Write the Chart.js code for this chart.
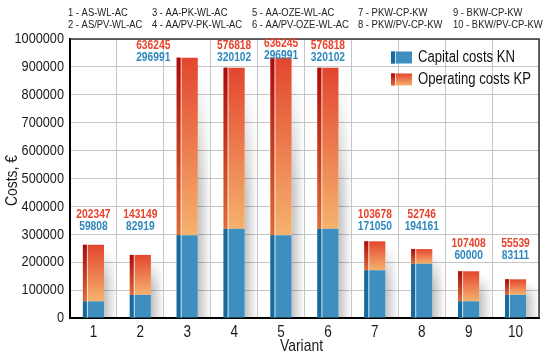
<!DOCTYPE html>
<html lang="en">
<head>
<meta charset="UTF-8" />
<title>Costs per variant</title>
<script src="https://cdn.jsdelivr.net/npm/chart.js"></script>
<style>
  html, body { margin: 0; padding: 0; background: #fff; }
  #wrap { width: 550px; height: 357px; }
</style>
</head>
<body>
<div id="wrap"><canvas id="costChart"></canvas></div>
<script>
  const variants = ['1', '2', '3', '4', '5', '6', '7', '8', '9', '10'];
  const variantNames = [
    '1 - AS-WL-AC', '2 - AS/PV-WL-AC',
    '3 - AA-PK-WL-AC', '4 - AA/PV-PK-WL-AC',
    '5 - AA-OZE-WL-AC', '6 - AA/PV-OZE-WL-AC',
    '7 - PKW-CP-KW', '8 - PKW/PV-CP-KW',
    '9 - BKW-CP-KW', '10 - BKW/PV-CP-KW'
  ];
  const capitalCosts = [59808, 82919, 296991, 320102, 296991, 320102, 171050, 194161, 60000, 83111];
  const operatingCosts = [202347, 143149, 636245, 576818, 636245, 576818, 103678, 52746, 107408, 55539];
  // value level where each pair of number labels sits
  const labelLevel = [370000, 370000, 978000, 978000, 982000, 978000, 370000, 370000, 268000, 268000];
  const yMax = 1000000;
  const yStep = 100000;
  const xTitle = 'Variant';
  const yTitle = 'Costs, €';

  // no narrow font installed, so Liberation Sans gets squeezed horizontally
  const FONT = "'Liberation Sans', Arial, sans-serif";
  const SQUEEZE = 0.82;
  const RED = '#e8432d';
  const BLUE = '#2f88bd';
  const INK = '#1a1a1a';

  function narrowText(ctx, text, x, y, opts) {
    ctx.save();
    ctx.translate(x, y);
    if (opts.rotate) ctx.rotate(opts.rotate);
    ctx.scale(SQUEEZE, 1);
    ctx.font = opts.font;
    ctx.fillStyle = opts.color || INK;
    ctx.textAlign = opts.align || 'left';
    ctx.textBaseline = 'middle';
    ctx.fillText(text, 0, 0);
    ctx.restore();
  }

  function opGradient(c) {
    const chart = c.chart;
    if (!chart.chartArea || c.type !== 'data') return '#e8623c';
    const y = chart.scales.y;
    const i = c.dataIndex;
    const top = y.getPixelForValue(capitalCosts[i] + operatingCosts[i]);
    const bot = y.getPixelForValue(capitalCosts[i]);
    const g = chart.ctx.createLinearGradient(0, top, 0, bot);
    g.addColorStop(0, '#e2462f');
    g.addColorStop(1, '#f6b26d');
    return g;
  }

  function drawStrip(ctx, left, top, bottom, isOp) {
    if (isOp) {
      const g = ctx.createLinearGradient(0, top, 0, bottom);
      g.addColorStop(0, '#a90b0b');
      g.addColorStop(1, '#df6a38');
      ctx.fillStyle = g;
    } else {
      ctx.fillStyle = '#186a9c';
    }
    ctx.fillRect(left, top, 4, bottom - top);
    ctx.fillStyle = 'rgba(255,255,255,0.75)';
    ctx.fillRect(left + 4, top, 1, bottom - top);
  }

  const decor = {
    id: 'decor',
    beforeDatasetsDraw(chart) {
      // soft shadow to the right of every bar
      const ctx = chart.ctx;
      const m0 = chart.getDatasetMeta(0).data;
      const m1 = chart.getDatasetMeta(1).data;
      ctx.save();
      m0.forEach((b0, i) => {
        const p0 = b0.getProps(['x', 'base', 'width'], true);
        const p1 = m1[i].getProps(['y'], true);
        const right = p0.x + p0.width / 2;
        const top = p1.y, base = p0.base;
        const h = base - top;
        const g = ctx.createLinearGradient(right, 0, right + 13, 0);
        g.addColorStop(0, 'rgba(0,0,0,0.24)');
        g.addColorStop(1, 'rgba(0,0,0,0)');
        ctx.fillStyle = g;
        for (let r = top; r < base; r++) {
          const t = (r - top) / h;
          ctx.globalAlpha = Math.max(0, Math.min(1, (t - 0.05) / 0.45));
          ctx.fillRect(right, r, 13, 1);
        }
      });
      ctx.restore();
    },
    afterDatasetsDraw(chart) {
      const ctx = chart.ctx;
      const area = chart.chartArea;
      ctx.save();
      [0, 1].forEach(d => {
        chart.getDatasetMeta(d).data.forEach(b => {
          const p = b.getProps(['x', 'y', 'base', 'width'], true);
          drawStrip(ctx, p.x - p.width / 2, p.y, p.base, d === 1);
        });
      });
      // frame top and right
      ctx.strokeStyle = '#333';
      ctx.lineWidth = 1.5;
      ctx.beginPath();
      ctx.moveTo(area.left, area.top);
      ctx.lineTo(area.right, area.top);
      ctx.lineTo(area.right, area.bottom);
      ctx.stroke();
      ctx.restore();

      // number labels above bars
      const y = chart.scales.y;
      const labelShift = { 2: -34 };
      chart.getDatasetMeta(0).data.forEach((b, i) => {
        const x = b.getProps(['x'], true).x + (labelShift[i] || 0);
        const ly = y.getPixelForValue(labelLevel[i]);
        narrowText(ctx, String(operatingCosts[i]), x, ly, { font: 'bold 12.5px ' + FONT, color: RED, align: 'center' });
        narrowText(ctx, String(capitalCosts[i]), x, ly + 12, { font: 'bold 12.5px ' + FONT, color: BLUE, align: 'center' });
      });
    },
    afterDraw(chart) {
      const ctx = chart.ctx;
      const area = chart.chartArea;
      const xs = chart.scales.x, ys = chart.scales.y;

      // tick labels
      ys.ticks.forEach(t => {
        narrowText(ctx, String(t.value), area.left - 6, ys.getPixelForValue(t.value), { font: '15.5px ' + FONT, align: 'right' });
      });
      variants.forEach((v, i) => {
        narrowText(ctx, v, xs.getPixelForValue(i), area.bottom + 14, { font: '16.5px ' + FONT, align: 'center' });
      });

      // axis titles
      narrowText(ctx, xTitle, (area.left + area.right) / 2 - 3, area.bottom + 28, { font: '17px ' + FONT, align: 'center' });
      narrowText(ctx, yTitle, 12, (area.top + area.bottom) / 2 + 2, { font: '17px ' + FONT, align: 'center', rotate: -Math.PI / 2 });

      // variant key above the plot
      const colX = [68, 152, 252, 358, 453];
      variantNames.forEach((n, i) => {
        narrowText(ctx, n, colX[Math.floor(i / 2)], i % 2 === 0 ? 12.5 : 24.5, { font: '11.5px ' + FONT, color: '#222' });
      });

      // legend
      const rows = [57.5, 79.5];
      ctx.save();
      chart.data.datasets.forEach((ds, d) => {
        const cy = rows[d];
        if (d === 0) {
          ctx.fillStyle = '#3e8fc0';
        } else {
          const g = ctx.createLinearGradient(0, cy - 6, 0, cy + 6);
          g.addColorStop(0, '#e2462f');
          g.addColorStop(1, '#f6b26d');
          ctx.fillStyle = g;
        }
        ctx.fillRect(391, cy - 6, 21, 12);
        drawStrip(ctx, 391, cy - 6, cy + 6, d === 1);
        narrowText(ctx, ds.label, 418, cy + 0.5, { font: '16px ' + FONT, color: '#111' });
      });
      ctx.restore();
    }
  };

  new Chart(document.getElementById('costChart'), {
    type: 'bar',
    data: {
      labels: variants,
      datasets: [
        { label: 'Capital costs KN', data: capitalCosts, backgroundColor: '#3e8fc0' },
        { label: 'Operating costs KP', data: operatingCosts, backgroundColor: opGradient }
      ]
    },
    options: {
      responsive: true,
      maintainAspectRatio: false,
      animation: false,
      layout: { padding: { top: 39, right: 11, left: 0, bottom: 0 } },
      datasets: { bar: { barPercentage: 0.45, categoryPercentage: 1 } },
      plugins: { legend: { display: false }, tooltip: { enabled: false } },
      scales: {
        x: {
          stacked: true,
          grid: { color: '#c6c6c6', drawTicks: false },
          border: { color: '#000', width: 2 },
          ticks: { display: false },
          afterFit(s) { s.height = 39; }
        },
        y: {
          stacked: true,
          min: 0,
          max: yMax,
          grid: { color: '#c6c6c6', drawTicks: false },
          border: { color: '#000', width: 2 },
          ticks: { display: false, stepSize: yStep },
          afterFit(s) { s.width = 70; }
        }
      }
    },
    plugins: [decor]
  });
</script>
</body>
</html>
